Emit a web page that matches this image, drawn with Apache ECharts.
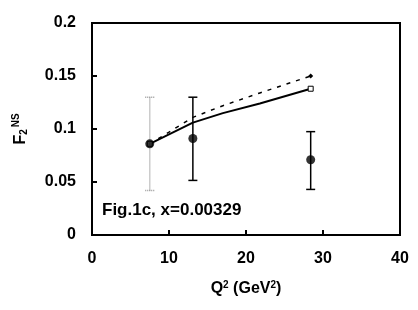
<!DOCTYPE html>
<html><head><meta charset="utf-8">
<script src="https://cdn.jsdelivr.net/npm/echarts@6/dist/echarts.min.js"></script>
<style>html,body{margin:0;padding:0;background:#fff}#c{width:418px;height:310px}</style>
</head><body><div id="c"></div>
<script>
// Data
const dataQ2 = [7.5, 13.1, 28.4];
const dataF2 = [0.086, 0.091, 0.071];
const errLow = [0.042, 0.0515, 0.043];
const errHigh = [0.130, 0.130, 0.0975];
const solidQ2 = [7.5, 10, 13.1, 17, 21.8, 28.4];
const solidF2 = [0.086, 0.095, 0.106, 0.115, 0.124, 0.138];
const dashQ2 = [7.5, 10, 13.1, 17, 21.8, 28.4];
const dashF2 = [0.086, 0.097, 0.111, 0.122, 0.134, 0.150];
const xTicks = [0, 10, 20, 30, 40];
const yTicks = [0, 0.05, 0.1, 0.15, 0.2];
const figLabel = 'Fig.1c, x=0.00329';

const chart = echarts.init(document.getElementById('c'), null, {renderer: 'canvas'});
const font = 'Liberation Sans, Arial, sans-serif';
const zip = (a, b) => a.map((v, i) => [v, b[i]]);
const endMarkers = (xs) => (v, p) => (p.dataIndex === 0 || p.dataIndex === xs.length - 1) ? 5 : 0;

chart.setOption({
  animation: false,
  grid: {left: 92, right: 18, top: 23, bottom: 75, show: true, borderColor: '#000', borderWidth: 2, backgroundColor: 'transparent'},
  xAxis: {
    type: 'value', min: xTicks[0], max: xTicks[xTicks.length - 1], interval: 10,
    name: '{b|Q}{s|2}{b| (GeV}{s|2}{b|)}', nameLocation: 'middle', nameGap: 45,
    nameTextStyle: {rich: {b: {fontFamily: font, fontWeight: 'bold', fontSize: 16, color: '#000'}, s: {fontFamily: font, fontWeight: 'bold', fontSize: 10, color: '#000', verticalAlign: 'top', padding: [0, 0, 7, 0]}}},
    axisLine: {lineStyle: {color: '#000', width: 2}},
    axisTick: {inside: true, length: 5, lineStyle: {color: '#000', width: 2}},
    axisLabel: {fontFamily: font, fontWeight: 'bold', fontSize: 16, color: '#000', margin: 16},
    splitLine: {show: false}
  },
  yAxis: {
    type: 'value', min: yTicks[0], max: yTicks[yTicks.length - 1], interval: 0.05,
    name: '{b|F}{sub|2}{sup|NS}', nameLocation: 'middle', nameGap: 62, nameRotate: 90,
    nameTextStyle: {rich: {b: {fontFamily: font, fontWeight: 'bold', fontSize: 16, color: '#000'}, sub: {fontFamily: font, fontWeight: 'bold', fontSize: 10, color: '#000', padding: [8, 0, 0, 0]}, sup: {fontFamily: font, fontWeight: 'bold', fontSize: 10, color: '#000', padding: [0, 0, 9, 2]}}},
    axisLine: {lineStyle: {color: '#000', width: 2}},
    axisTick: {inside: true, length: 5, lineStyle: {color: '#000', width: 2}},
    axisLabel: {fontFamily: font, fontWeight: 'bold', fontSize: 16, color: '#000', margin: 16},
    splitLine: {show: false}
  },
  graphic: [{type: 'text', left: 102, top: 202, style: {text: figLabel, font: 'bold 17px ' + font, fill: '#000'}}],
  series: [
    {
      type: 'line', data: zip(dashQ2, dashF2), symbol: 'diamond', symbolSize: endMarkers(dashQ2),
      itemStyle: {color: '#000'}, lineStyle: {color: '#000', width: 1.5, type: [4, 6]}, z: 3
    },
    {
      type: 'line', data: zip(solidQ2, solidF2), symbol: 'rect', symbolSize: endMarkers(solidQ2),
      itemStyle: {color: '#fff', borderColor: '#000', borderWidth: 1}, lineStyle: {color: '#000', width: 2}, z: 4
    },
    {
      type: 'custom', z: 5,
      data: dataQ2.map((q, i) => [q, errLow[i], errHigh[i]]),
      renderItem: function (params, api) {
        const lo = api.coord([api.value(0), api.value(1)]);
        const hi = api.coord([api.value(0), api.value(2)]);
        const grey = params.dataIndex === 0;
        const st = grey ? {stroke: '#999', lineWidth: 1.5, lineDash: [1, 1]} : {stroke: '#000', lineWidth: 1.5};
        const w = 4.5;
        return {type: 'group', children: [
          {type: 'line', shape: {x1: lo[0], y1: lo[1], x2: hi[0], y2: hi[1]}, style: st},
          {type: 'line', shape: {x1: lo[0] - w, y1: lo[1], x2: lo[0] + w, y2: lo[1]}, style: st},
          {type: 'line', shape: {x1: hi[0] - w, y1: hi[1], x2: hi[0] + w, y2: hi[1]}, style: st}
        ]};
      }
    },
    {
      type: 'scatter', data: zip(dataQ2, dataF2), symbol: 'circle', symbolSize: 9,
      itemStyle: {color: '#000'}, z: 6
    }
  ]
});
</script></body></html>
